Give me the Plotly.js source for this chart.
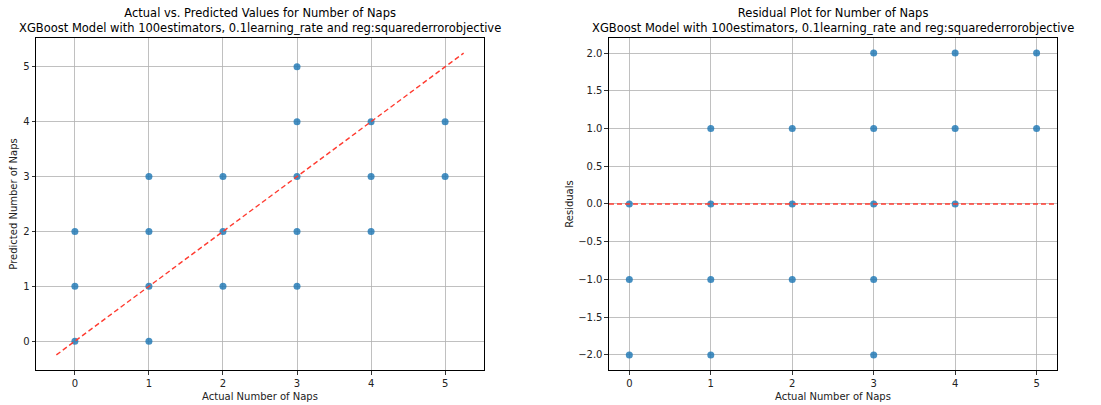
<!DOCTYPE html>
<html><head><meta charset="utf-8">
<script src="https://cdn.plot.ly/plotly-3.0.1.min.js"></script>
<style>html,body{margin:0;padding:0;background:#fff}#c{width:1101px;height:405px}</style>
</head><body><div id="c"></div>
<script>
const actual    = [0,0,0,1,1,1,1,2,2,2,3,3,3,3,3,4,4,4,5,5];
const predicted = [0,1,2,0,1,2,3,1,2,3,1,2,3,4,5,2,3,4,3,4];
const residuals = actual.map((a,i)=>a-predicted[i]);
const diagLine = [-0.25, 5.25];
const title1 = "Actual vs. Predicted Values for Number of Naps<br>XGBoost Model with 100estimators, 0.1learning_rate and reg:squarederrorobjective";
const title2 = "Residual Plot for Number of Naps<br>XGBoost Model with 100estimators, 0.1learning_rate and reg:squarederrorobjective";

const F = "DejaVu Sans, sans-serif";
const mk = {color:'#1f77b4', size:7, opacity:0.82, line:{width:0}};
const traces = [
  {x:actual, y:predicted, type:'scatter', mode:'markers', marker:mk, xaxis:'x', yaxis:'y', hoverinfo:'skip'},
  {x:diagLine, y:diagLine, type:'scatter', mode:'lines', line:{color:'#ff3b30', width:1.4, dash:'5px,3px'}, xaxis:'x', yaxis:'y'},
  {x:actual, y:residuals, type:'scatter', mode:'markers', marker:mk, xaxis:'x2', yaxis:'y2'}
];
const ax = {
  showline:true, linecolor:'#000', linewidth:1, mirror:true,
  showgrid:true, gridcolor:'#b0b0b0', gridwidth:0.8, zeroline:false,
  ticks:'outside', ticklen:3.5, tickcolor:'#000', tickwidth:0.8,
  tickfont:{family:F, size:10, color:'#222'}
};
const layout = {
  width:1101, height:405, margin:{l:0,r:0,t:0,b:0},
  paper_bgcolor:'#fff', plot_bgcolor:'#fff', showlegend:false,
  font:{family:F, color:'#222'},
  xaxis:Object.assign({}, ax, {domain:[0.0327,0.4396], range:[-0.525,5.525], tickvals:[0,1,2,3,4,5], anchor:'y',
    title:{text:'Actual Number of Naps', font:{family:F,size:10,color:'#222'}, standoff:5}}),
  yaxis:Object.assign({}, ax, {domain:[0.0864,0.9062], range:[-0.525,5.525], tickvals:[0,1,2,3,4,5], anchor:'x',
    title:{text:'Predicted Number of Naps', font:{family:F,size:10,color:'#222'}, standoff:3}}),
  xaxis2:Object.assign({}, ax, {domain:[0.5531,0.9600], range:[-0.25,5.25], tickvals:[0,1,2,3,4,5], anchor:'y2',
    title:{text:'Actual Number of Naps', font:{family:F,size:10,color:'#222'}, standoff:5}}),
  yaxis2:Object.assign({}, ax, {domain:[0.0864,0.9062], range:[-2.2,2.2], tickvals:[-2,-1.5,-1,-0.5,0,0.5,1,1.5,2], tickformat:'.1f', anchor:'x2',
    title:{text:'Residuals', font:{family:F,size:10,color:'#222'}, standoff:2}}),
  shapes:[{type:'line', xref:'x2 domain', yref:'y2', x0:0, x1:1, y0:0, y1:0, line:{color:'#ff3b30', width:1.4, dash:'5px,3px'}}],
  annotations:[
    {text:title1, xref:'paper', yref:'paper', x:(0.0327+0.4396)/2, y:0.9062, yshift:1, xanchor:'center', yanchor:'bottom', showarrow:false, font:{family:F,size:11.5,color:'#000'}},
    {text:title2, xref:'paper', yref:'paper', x:(0.5531+0.96)/2, y:0.9062, yshift:1, xanchor:'center', yanchor:'bottom', showarrow:false, font:{family:F,size:11.5,color:'#000'}}
  ]
};
Plotly.newPlot('c', traces, layout, {displayModeBar:false, staticPlot:true});
</script></body></html>
